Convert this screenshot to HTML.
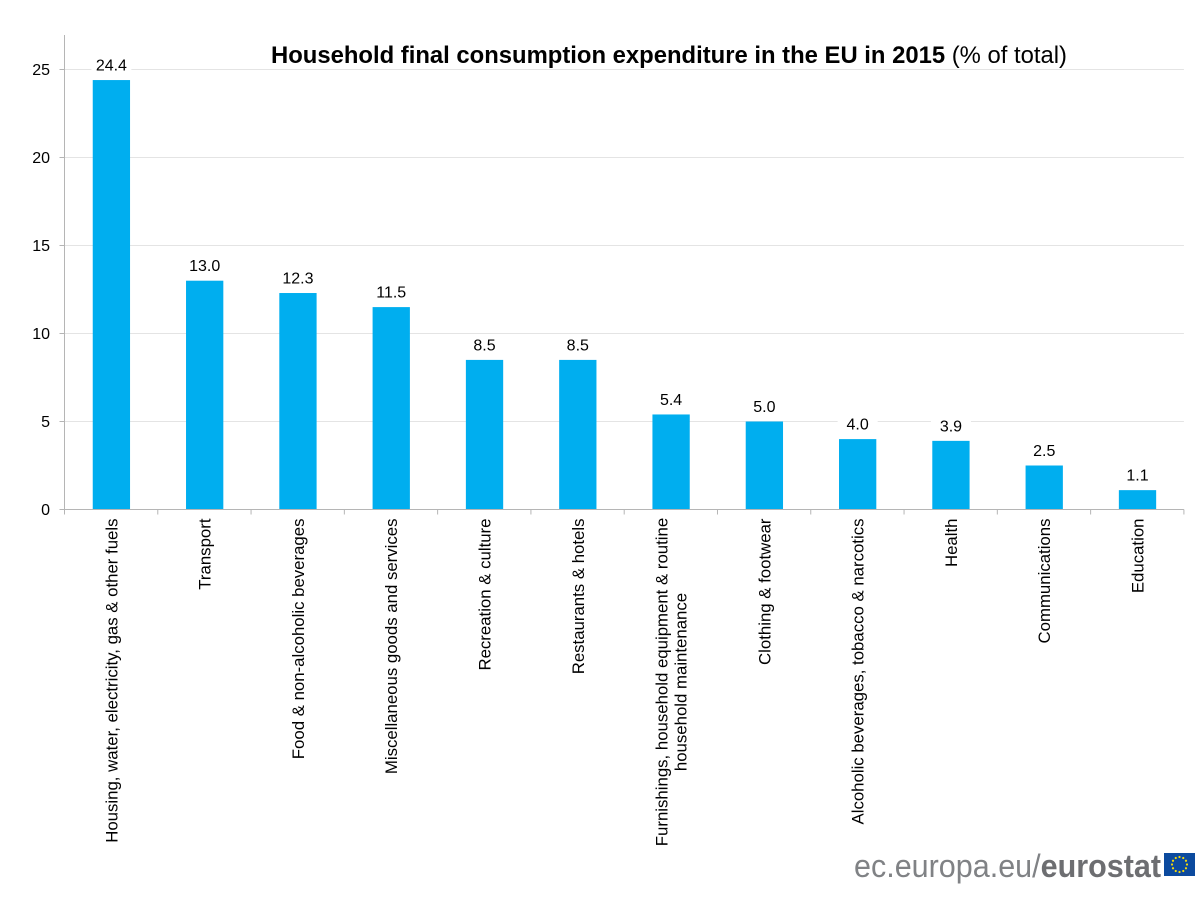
<!DOCTYPE html>
<html lang="en">
<head>
<meta charset="utf-8">
<title>Household final consumption expenditure in the EU in 2015</title>
<style>
html,body{margin:0;padding:0;background:#fff;}
svg{display:block;font-family:"Liberation Sans",Arial,sans-serif;}
</style>
</head>
<body>
<svg id="chart" xmlns="http://www.w3.org/2000/svg" width="1200" height="900" viewBox="0 0 1200 900">
<rect width="1200" height="900" fill="#fff"/>
<g id="grid"></g>
<g id="bars"></g>
<g id="axes"></g>
<g id="ylabels"></g>
<g id="xlabels"></g>
<g id="values"></g>
<text x="669" y="63" text-anchor="middle" font-size="24" fill="#000" textLength="796" lengthAdjust="spacingAndGlyphs"><tspan font-weight="bold">Household final consumption expenditure in the EU in 2015</tspan> (% of total)</text>
<g>
<text x="854" y="877" font-size="32" fill="#808285" textLength="307" lengthAdjust="spacingAndGlyphs">ec.europa.eu/<tspan font-weight="bold" fill="#6d6e71">eurostat</tspan></text>
<rect x="1164" y="853" width="31" height="23" fill="#0c4a9e"/>
<g id="stars"></g>
</g>
</svg>
<script>
const categories = [
  ["Housing, water, electricity, gas & other fuels"],
  ["Transport"],
  ["Food & non-alcoholic beverages"],
  ["Miscellaneous goods and services"],
  ["Recreation & culture"],
  ["Restaurants & hotels"],
  ["Furnishings, household equipment & routine", "household maintenance"],
  ["Clothing & footwear"],
  ["Alcoholic beverages, tobacco & narcotics"],
  ["Health"],
  ["Communications"],
  ["Education"]
];
const seriesValues = [24.4, 13.0, 12.3, 11.5, 8.5, 8.5, 5.4, 5.0, 4.0, 3.9, 2.5, 1.1];
const yTickValues = [0, 5, 10, 15, 20, 25];

const NS = "http://www.w3.org/2000/svg";
const plotLeft = 64.5, plotRight = 1183.9, plotBottom = 509.5, plotTop = 35;
const pxPerUnit = 17.6;
const step = (plotRight - plotLeft) / categories.length;
const barWidth = 37.3;
const yScale = v => plotBottom - v * pxPerUnit;
const xCenter = i => plotLeft + step * (i + 0.5) + 0.25;

function make(parent, tag, attrs, text) {
  const el = document.createElementNS(NS, tag);
  for (const k in attrs) el.setAttribute(k, attrs[k]);
  if (text !== undefined) el.textContent = text;
  parent.appendChild(el);
  return el;
}

const grid = document.getElementById("grid");
const barsG = document.getElementById("bars");
const axesG = document.getElementById("axes");
const ylabels = document.getElementById("ylabels");
const xlabels = document.getElementById("xlabels");
const valuesG = document.getElementById("values");
const stars = document.getElementById("stars");

yTickValues.forEach(v => {
  const y = yScale(v);
  if (v !== 0) {
    const g = make(grid, "line", {x1: plotLeft, x2: plotRight, y1: y, y2: y, stroke: "#e4e4e4", "stroke-width": 1});
    
    
  }
  const t = make(axesG, "line", {x1: plotLeft - 5, x2: plotLeft, y1: y, y2: y, stroke: "#b5b5b5", "stroke-width": 1});
  
  
  const l = make(ylabels, "text", {x: 50, y: y + 5.5, "text-anchor": "end", "font-size": 16, fill: "#000"}, String(v));
  
  
});

const yAxis = make(axesG, "line", {x1: plotLeft, x2: plotLeft, y1: plotTop, y2: plotBottom, stroke: "#b5b5b5", "stroke-width": 1});


const xAxis = make(axesG, "line", {x1: plotLeft - 5, x2: plotRight, y1: plotBottom, y2: plotBottom, stroke: "#b5b5b5", "stroke-width": 1});



for (let i = 0; i <= categories.length; i++) {
  const x = plotLeft + step * i;
  const t = make(axesG, "line", {x1: x, x2: x, y1: plotBottom, y2: plotBottom + 5, stroke: "#b5b5b5", "stroke-width": 1});
  
  
}

seriesValues.forEach((v, i) => {
  const cx = xCenter(i);
  const top = yScale(v);
  const bar = make(barsG, "rect", {x: cx - barWidth / 2, y: top, width: barWidth, height: plotBottom - top, fill: "#00aeef"});
  
  
  const bg = make(valuesG, "rect", {x: cx - 20, y: top - 24, width: 40, height: 20, fill: "#fff"});
  
  
  const lab = make(valuesG, "text", {x: cx, y: top - 9.5, "text-anchor": "middle", "font-size": 16, fill: "#000"}, v.toFixed(1));
  
  
});

categories.forEach((lines, i) => {
  const cx = xCenter(i);
  const lineHeight = 19;
  lines.forEach((line, j) => {
    const offset = (j - (lines.length - 1) / 2) * lineHeight;
    const x = cx + offset + 6;
    const anchorY = lines.length > 1 ? 682 : 518.5;
    const anchor = lines.length > 1 ? "middle" : "end";
    const t = make(xlabels, "text", {
      x: x, y: anchorY, "text-anchor": anchor, "font-size": 16.8, fill: "#000",
      transform: "rotate(-90 " + x + " " + anchorY + ")"
    }, line);
    
    
  });
});

for (let k = 0; k < 12; k++) {
  const a = k * Math.PI / 6;
  const s = make(stars, "circle", {cx: 1179.5 + 7.5 * Math.cos(a), cy: 864.5 + 7.5 * Math.sin(a), r: 1.1, fill: "#f5d90a"});
  
  
}
</script>
</body>
</html>
